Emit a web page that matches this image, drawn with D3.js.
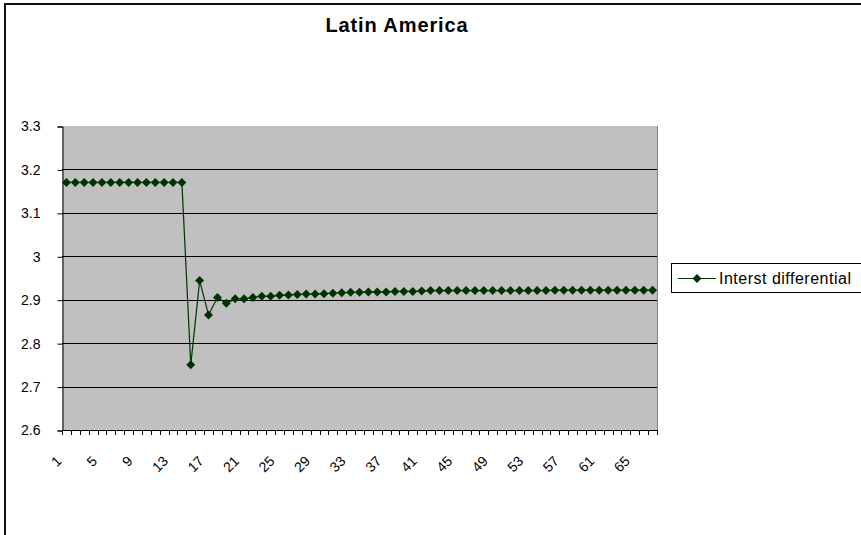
<!DOCTYPE html>
<html>
<head>
<meta charset="utf-8">
<script src="https://cdn.jsdelivr.net/npm/d3@7/dist/d3.min.js"></script>
<style>
  html, body { margin: 0; padding: 0; background: #fff; }
  svg { display: block; font-family: Arial, "Liberation Sans", sans-serif; }
</style>
</head>
<body>
<svg id="chart" width="861" height="535"></svg>
<script>
// Period index along the horizontal axis
const categories = [
  1, 2, 3, 4, 5, 6, 7, 8, 9, 10, 11, 12, 13, 14, 15, 16, 17, 18, 19, 20,
  21, 22, 23, 24, 25, 26, 27, 28, 29, 30, 31, 32, 33, 34, 35, 36, 37, 38, 39, 40,
  41, 42, 43, 44, 45, 46, 47, 48, 49, 50, 51, 52, 53, 54, 55, 56, 57, 58, 59, 60,
  61, 62, 63, 64, 65, 66, 67
];

// Interest differential per period
const interestDifferential = [
  3.17, 3.17, 3.17, 3.17, 3.17, 3.17, 3.17, 3.17, 3.17, 3.17, 3.17, 3.17, 3.17, 3.17,
  2.75, 2.944, 2.865, 2.905, 2.892, 2.902, 2.902, 2.905, 2.908, 2.908, 2.910, 2.911,
  2.912, 2.913, 2.913, 2.914, 2.915, 2.916, 2.917, 2.917, 2.918, 2.918, 2.918, 2.919,
  2.919, 2.919, 2.920, 2.921, 2.921, 2.921, 2.921, 2.921, 2.921, 2.921, 2.921, 2.921,
  2.921, 2.921, 2.921, 2.921, 2.921, 2.922, 2.922, 2.922, 2.922, 2.922, 2.922, 2.922,
  2.922, 2.922, 2.922, 2.922, 2.922
];

// Labelled categories on the x axis (every fourth period)
const xTickLabels = [1, 5, 9, 13, 17, 21, 25, 29, 33, 37, 41, 45, 49, 53, 57, 61, 65];

// Value ticks on the y axis
const yTicks = [2.6, 2.7, 2.8, 2.9, 3.0, 3.1, 3.2, 3.3];

const seriesName = "Interst differential";
const title = "Latin America";

const svg = d3.select("#chart");
const W = 861, H = 535;
const plot = { left: 62, right: 657, top: 126, bottom: 430 };
const lineColor = "#003300";

// Outer chart frame
svg.append("rect")
  .attr("x", 5).attr("y", 4)
  .attr("width", W + 20).attr("height", H + 20)
  .attr("fill", "#fff")
  .attr("stroke", "#111").attr("stroke-width", 2);

// Title
svg.append("text")
  .attr("x", 397).attr("y", 32)
  .attr("text-anchor", "middle")
  .attr("font-size", 20).attr("font-weight", "bold")
  .attr("letter-spacing", 0.9)
  .attr("fill", "#000")
  .text(title);

const x = d3.scaleBand()
  .domain(categories)
  .range([plot.left, plot.right])
  .padding(0);

const y = d3.scaleLinear()
  .domain([2.6, 3.3])
  .range([plot.bottom, plot.top]);

// Plot area background
svg.append("rect")
  .attr("x", plot.left).attr("y", plot.top)
  .attr("width", plot.right - plot.left)
  .attr("height", plot.bottom - plot.top)
  .attr("fill", "#c0c0c0");

// Horizontal gridlines
svg.append("g")
  .selectAll("line")
  .data(yTicks.filter(v => v > 2.6 && v < 3.3))
  .join("line")
  .attr("x1", plot.left).attr("x2", plot.right)
  .attr("y1", d => Math.round(y(d)) + 0.5)
  .attr("y2", d => Math.round(y(d)) + 0.5)
  .attr("stroke", "#000").attr("stroke-width", 1);

// Right edge of plot area
svg.append("line")
  .attr("x1", plot.right + 0.5).attr("x2", plot.right + 0.5)
  .attr("y1", plot.top).attr("y2", plot.bottom)
  .attr("stroke", "#808080").attr("stroke-width", 1);

// Y axis
const yAxis = d3.axisLeft(y)
  .tickValues(yTicks)
  .tickSize(5)
  .tickPadding(17)
  .tickFormat(d => d3.format("")(+d.toFixed(1)));

const gy = svg.append("g")
  .attr("transform", `translate(${plot.left + 0.5},0.5)`)
  .call(yAxis);
gy.select(".domain").attr("stroke", "#000");
gy.selectAll(".tick line").attr("stroke", "#000");
gy.selectAll(".tick text")
  .attr("font-size", 14)
  .attr("font-family", "Arial, 'Liberation Sans', sans-serif")
  .attr("fill", "#000");

// X axis: tick marks at category boundaries
const boundaries = categories.map(c => x(c)).concat([plot.right]);
const gx = svg.append("g");
gx.append("line")
  .attr("x1", plot.left).attr("x2", plot.right + 1)
  .attr("y1", plot.bottom + 0.5).attr("y2", plot.bottom + 0.5)
  .attr("stroke", "#000");
gx.selectAll("line.tk")
  .data(boundaries)
  .join("line")
  .attr("class", "tk")
  .attr("x1", d => Math.round(d) + 0.5).attr("x2", d => Math.round(d) + 0.5)
  .attr("y1", plot.bottom).attr("y2", plot.bottom + 5)
  .attr("stroke", "#000");

// Rotated category labels
gx.selectAll("text")
  .data(xTickLabels)
  .join("text")
  .attr("transform", d => `translate(${x(d) + x.bandwidth() / 2 - 4},462) rotate(-45)`)
  .attr("text-anchor", "end")
  .attr("font-size", 14)
  .attr("fill", "#000")
  .text(d => d);

// Series line
const pts = categories.map((c, i) => ({ c, v: interestDifferential[i] }));
const line = d3.line()
  .x(d => x(d.c) + x.bandwidth() / 2)
  .y(d => y(d.v));

svg.append("path")
  .datum(pts)
  .attr("d", line)
  .attr("fill", "none")
  .attr("stroke", lineColor)
  .attr("stroke-width", 1.2);

// Square diamond marker, half-diagonal = sqrt(size) / 2
const squareDiamond = {
  draw(ctx, size) {
    const r = Math.sqrt(size) / 2;
    ctx.moveTo(0, -r);
    ctx.lineTo(r, 0);
    ctx.lineTo(0, r);
    ctx.lineTo(-r, 0);
    ctx.closePath();
  }
};
const diamond = d3.symbol().type(squareDiamond).size(81);

svg.append("g")
  .selectAll("path")
  .data(pts)
  .join("path")
  .attr("transform", d => `translate(${x(d.c) + x.bandwidth() / 2},${y(d.v)})`)
  .attr("d", diamond)
  .attr("fill", lineColor);

// Legend
const lg = svg.append("g");
lg.append("rect")
  .attr("x", 671.5).attr("y", 263.5)
  .attr("width", 220).attr("height", 29)
  .attr("fill", "#fff")
  .attr("stroke", "#000").attr("stroke-width", 1);
lg.append("line")
  .attr("x1", 678).attr("x2", 716)
  .attr("y1", 278.5).attr("y2", 278.5)
  .attr("stroke", lineColor).attr("stroke-width", 1.2);
lg.append("path")
  .attr("transform", "translate(697,278.5)")
  .attr("d", diamond)
  .attr("fill", lineColor);
lg.append("text")
  .attr("x", 719).attr("y", 278.5)
  .attr("dy", "0.35em")
  .attr("font-size", 16)
  .attr("letter-spacing", 0.5)
  .attr("fill", "#000")
  .text(seriesName);
</script>
</body>
</html>
